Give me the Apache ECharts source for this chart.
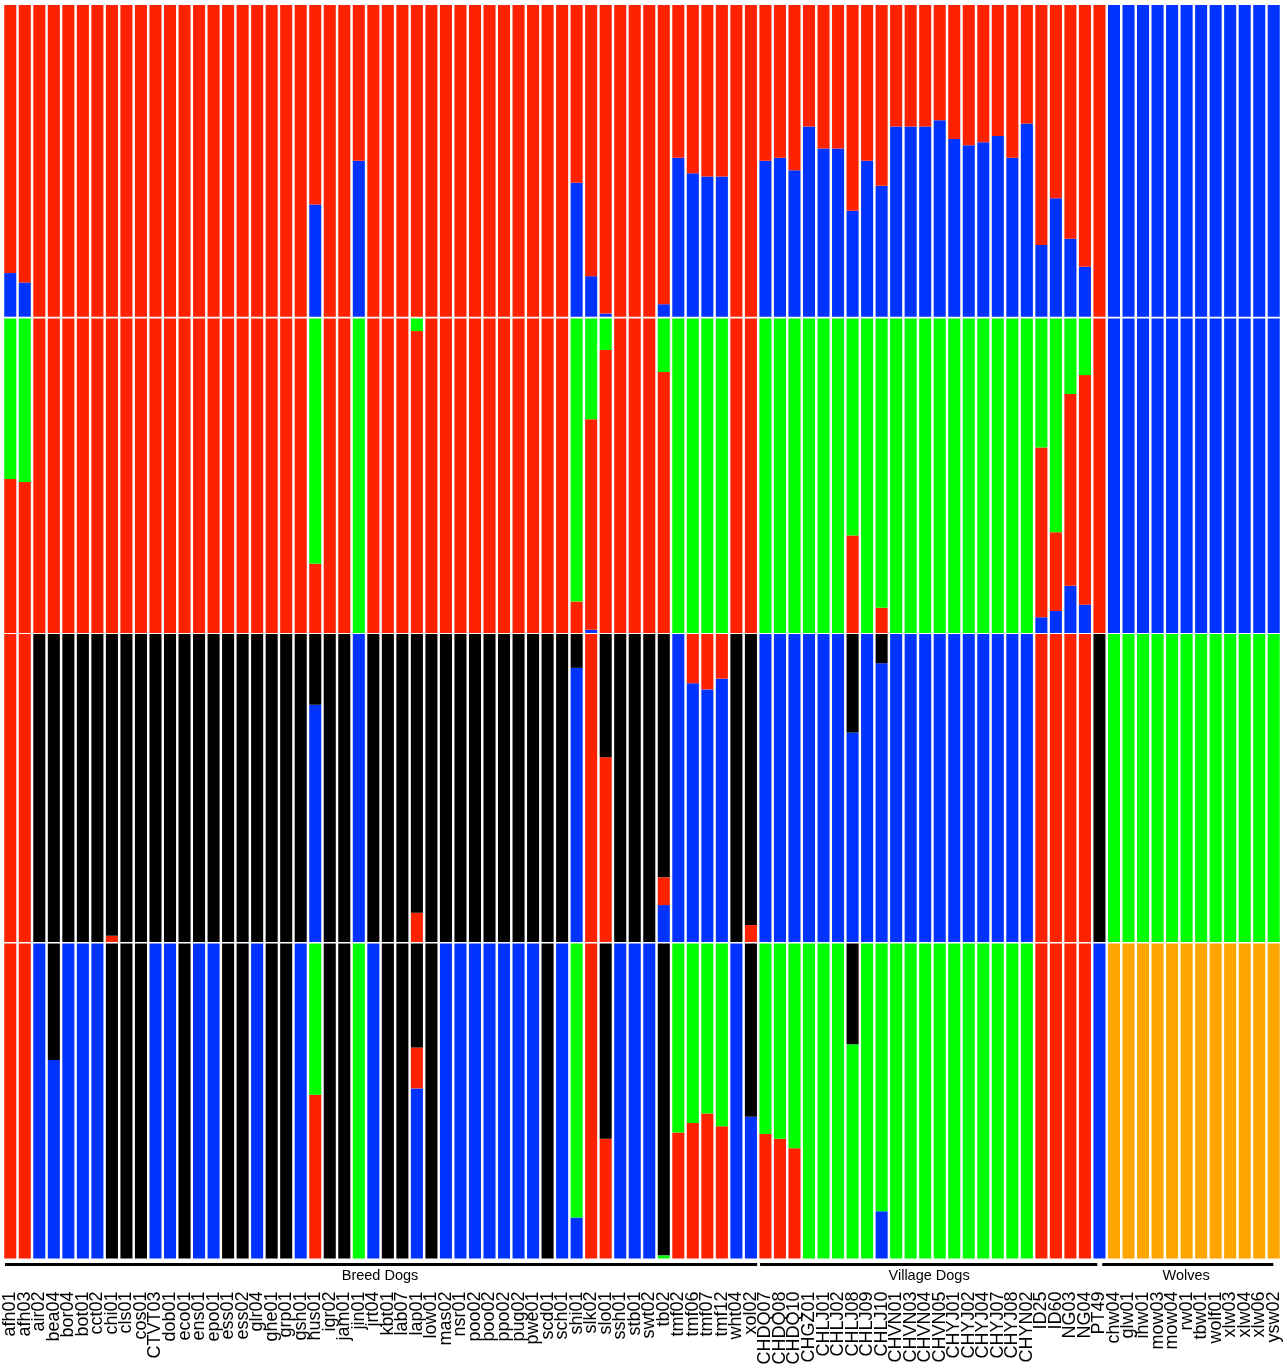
<!DOCTYPE html>
<html><head><meta charset="utf-8">
<script src="https://cdn.jsdelivr.net/npm/echarts@6/dist/echarts.min.js"></script>
<style>html,body{margin:0;padding:0;background:#fff}#c{width:1287px;height:1371px}</style>
</head><body><div id="c"></div><script>
const samples = ['afh01','afh03','air02','bea04','bor04','bot01','cct02','chi01','cls01','cos01','CTVT03','dob01','eco01','ens01','epo01','ess01','ess02','glr04','ghe01','grp01','gsh01','hus01','igr02','jam01','jin01','jrt04','kbt01','lab07','lap01','low01','mas02','nsr01','poo02','poo02','ppo02','pug02','pwe01','scd01','sch01','shi01','slk02','slo01','ssh01','stb01','swt02','tb02','tmf02','tmf06','tmf07','tmf12','wht04','xol02','CHDQ07','CHDQ08','CHDQ10','CHGZ01','CHLJ01','CHLJ02','CHLJ08','CHLJ09','CHLJ10','CHVN01','CHVN03','CHVN04','CHVN05','CHYJ01','CHYJ02','CHYJ04','CHYJ07','CHYJ08','CHYN02','ID25','ID60','NG03','NG04','PT49','chw04','glw01','ihw01','mow03','mow04','rw01','tbw01','wolf01','xlw03','xlw04','xlw06','ysw02'];

const groups = ['Breed Dogs','Village Dogs','Wolves'];
// group spans in category index units (line start, line end, label centre)
const groupSpans = [[-0.36, 51.43, 25.46],[51.63, 74.85, 63.27],[75.19, 86.97, 80.97]];

// K=2
const k2Blue = [0.14,0.11,0,0,0,0,0,0,0,0, 0,0,0,0,0,0,0,0,0,0, 0,0.36,0,0,0.50,0,0,0,0,0, 0,0,0,0,0,0,0,0,0,0.43, 0.13,0.01,0,0,0,0.04,0.51,0.46,0.45,0.45, 0,0,0.50,0.51,0.47,0.61,0.54,0.54,0.34,0.50, 0.42,0.61,0.61,0.61,0.63,0.57,0.55,0.56,0.58,0.51, 0.62,0.23,0.38,0.25,0.16,0,1,1,1,1, 1,1,1,1,1,1,1,1];
const k2Red = [0.86,0.89,1,1,1,1,1,1,1,1, 1,1,1,1,1,1,1,1,1,1, 1,0.64,1,1,0.50,1,1,1,1,1, 1,1,1,1,1,1,1,1,1,0.57, 0.87,0.99,1,1,1,0.96,0.49,0.54,0.55,0.55, 1,1,0.50,0.49,0.53,0.39,0.46,0.46,0.66,0.50, 0.58,0.39,0.39,0.39,0.37,0.43,0.45,0.44,0.42,0.49, 0.38,0.77,0.62,0.75,0.84,1,0,0,0,0, 0,0,0,0,0,0,0,0];

// K=3
const k3Blue = [0,0,0,0,0,0,0,0,0,0, 0,0,0,0,0,0,0,0,0,0, 0,0,0,0,0,0,0,0,0,0, 0,0,0,0,0,0,0,0,0,0, 0.01,0,0,0,0,0,0,0,0,0, 0,0,0,0,0,0,0,0,0,0, 0,0,0,0,0,0,0,0,0,0, 0,0.05,0.07,0.15,0.09,0,1,1,1,1, 1,1,1,1,1,1,1,1];
const k3Red = [0.49,0.48,1,1,1,1,1,1,1,1, 1,1,1,1,1,1,1,1,1,1, 1,0.22,1,1,0,1,1,1,0.96,1, 1,1,1,1,1,1,1,1,1,0.10, 0.67,0.90,1,1,1,0.83,0,0,0,0, 1,1,0,0,0,0,0,0,0.31,0, 0.08,0,0,0,0,0,0,0,0,0, 0,0.54,0.25,0.61,0.73,1,0,0,0,0, 0,0,0,0,0,0,0,0];
const k3Green = [0.51,0.52,0,0,0,0,0,0,0,0, 0,0,0,0,0,0,0,0,0,0, 0,0.78,0,0,1,0,0,0,0.04,0, 0,0,0,0,0,0,0,0,0,0.90, 0.32,0.10,0,0,0,0.17,1,1,1,1, 0,0,1,1,1,1,1,1,0.69,1, 0.92,1,1,1,1,1,1,1,1,1, 1,0.41,0.68,0.24,0.18,0,0,0,0,0, 0,0,0,0,0,0,0,0];

// K=4
const k4Blue = [0,0,0,0,0,0,0,0,0,0, 0,0,0,0,0,0,0,0,0,0, 0,0.77,0,0,1,0,0,0,0,0, 0,0,0,0,0,0,0,0,0,0.89, 0,0,0,0,0,0.12,1,0.84,0.82,0.855, 0,0,1,1,1,1,1,1,0.68,1, 0.905,1,1,1,1,1,1,1,1,1, 1,0,0,0,0,0,0,0,0,0, 0,0,0,0,0,0,0,0];
const k4Red = [1,1,0,0,0,0,0,0.02,0,0, 0,0,0,0,0,0,0,0,0,0, 0,0,0,0,0,0,0,0,0.095,0, 0,0,0,0,0,0,0,0,0,0, 1,0.60,0,0,0,0.09,0,0.16,0.18,0.145, 0,0.055,0,0,0,0,0,0,0,0, 0,0,0,0,0,0,0,0,0,0, 0,1,1,1,1,0,0,0,0,0, 0,0,0,0,0,0,0,0];
const k4Green = [0,0,0,0,0,0,0,0,0,0, 0,0,0,0,0,0,0,0,0,0, 0,0,0,0,0,0,0,0,0,0, 0,0,0,0,0,0,0,0,0,0, 0,0,0,0,0,0,0,0,0,0, 0,0,0,0,0,0,0,0,0,0, 0,0,0,0,0,0,0,0,0,0, 0,0,0,0,0,0,1,1,1,1, 1,1,1,1,1,1,1,1];
const k4Black = [0,0,1,1,1,1,1,0.98,1,1, 1,1,1,1,1,1,1,1,1,1, 1,0.23,1,1,0,1,1,1,0.905,1, 1,1,1,1,1,1,1,1,1,0.11, 0,0.40,1,1,1,0.79,0,0,0,0, 1,0.945,0,0,0,0,0,0,0.32,0, 0.095,0,0,0,0,0,0,0,0,0, 0,0,0,0,0,1,0,0,0,0, 0,0,0,0,0,0,0,0];

// K=5
const k5Blue = [0,0,1,0.63,1,1,1,0,0,0, 1,1,0,1,1,0,0,1,0,0, 1,0,0,0,0,1,0,0,0.54,0, 1,1,1,1,1,1,1,0,1,0.13, 0,0,1,1,1,0,0,0,0,0, 1,0.45,0,0,0,0,0,0,0,0, 0.15,0,0,0,0,0,0,0,0,0, 0,0,0,0,0,1,0,0,0,0, 0,0,0,0,0,0,0,0];
const k5Red = [1,1,0,0,0,0,0,0,0,0, 0,0,0,0,0,0,0,0,0,0, 0,0.52,0,0,0,0,0,0,0.13,0, 0,0,0,0,0,0,0,0,0,0, 1,0.38,0,0,0,0,0.40,0.43,0.46,0.42, 0,0,0.395,0.38,0.35,0,0,0,0,0, 0,0,0,0,0,0,0,0,0,0, 0,1,1,1,1,0,0,0,0,0, 0,0,0,0,0,0,0,0];
const k5Green = [0,0,0,0,0,0,0,0,0,0, 0,0,0,0,0,0,0,0,0,0, 0,0.48,0,0,1,0,0,0,0,0, 0,0,0,0,0,0,0,0,0,0.87, 0,0,0,0,0,0.01,0.60,0.57,0.54,0.58, 0,0,0.605,0.62,0.65,1,1,1,0.68,1, 0.85,1,1,1,1,1,1,1,1,1, 1,0,0,0,0,0,0,0,0,0, 0,0,0,0,0,0,0,0];
const k5Black = [0,0,0,0.37,0,0,0,1,1,1, 0,0,1,0,0,1,1,0,1,1, 0,0,1,1,0,0,1,1,0.33,1, 0,0,0,0,0,0,0,1,0,0, 0,0.62,0,0,0,0.99,0,0,0,0, 0,0.55,0,0,0,0,0,0,0.32,0, 0,0,0,0,0,0,0,0,0,0, 0,0,0,0,0,0,0,0,0,0, 0,0,0,0,0,0,0,0];
const k5Orange = [0,0,0,0,0,0,0,0,0,0, 0,0,0,0,0,0,0,0,0,0, 0,0,0,0,0,0,0,0,0,0, 0,0,0,0,0,0,0,0,0,0, 0,0,0,0,0,0,0,0,0,0, 0,0,0,0,0,0,0,0,0,0, 0,0,0,0,0,0,0,0,0,0, 0,0,0,0,0,0,1,1,1,1, 1,1,1,1,1,1,1,1];

const COL = {blue:'#0033ff', red:'#ff2200', green:'#00ff00', black:'#000000', orange:'#ffa500'};
const panels = [
  [['blue',k2Blue],['red',k2Red]],
  [['blue',k3Blue],['red',k3Red],['green',k3Green]],
  [['blue',k4Blue],['red',k4Red],['green',k4Green],['black',k4Black]],
  [['blue',k5Blue],['red',k5Red],['green',k5Green],['black',k5Black],['orange',k5Orange]]
];
const boxes = [[5,311.7],[318.5,314.5],[634,308],[943.5,315]];
const GL = 3, GW = 1278;

const chart = echarts.init(document.getElementById('c'), null, {renderer:'canvas'});
const grid = [], xAxis = [], yAxis = [], series = [];
panels.forEach((comps, p) => {
  grid.push({left:GL, width:GW, top:boxes[p][0], height:boxes[p][1], containLabel:false});
  const last = p === panels.length - 1;
  xAxis.push({type:'category', gridIndex:p, data:samples, boundaryGap:true,
    axisLine:{show:false}, axisTick:{show:false}, splitLine:{show:false},
    axisLabel: last ? {show:true, interval:0, rotate:90, fontSize:18, margin:33,
      fontFamily:'"Liberation Sans", Arial, Helvetica, sans-serif', color:'#000'} : {show:false}});
  yAxis.push({type:'value', gridIndex:p, min:0, max:1, show:false, splitLine:{show:false}});
  comps.forEach(([c, arr]) => {
    series.push({type:'bar', name:'K'+(p+2)+'-'+c, xAxisIndex:p, yAxisIndex:p, stack:'s'+p,
      data:arr, barCategoryGap:'17%', itemStyle:{color:COL[c]}, silent:true});
  });
});
chart.setOption({animation:false, backgroundColor:'#fff', grid, xAxis, yAxis, series});

const p0 = chart.convertToPixel({xAxisIndex:3}, 0);
const p1 = chart.convertToPixel({xAxisIndex:3}, 1);
const band = p1 - p0;
const px = v => p0 + v * band;
const graphic = [];
groupSpans.forEach((s, i) => {
  graphic.push({type:'line', shape:{x1:px(s[0]), y1:1264.5, x2:px(s[1]), y2:1264.5}, style:{stroke:'#000', lineWidth:3}, silent:true});
  graphic.push({type:'text', x:px(s[2]), y:1275.5, style:{text:groups[i], fill:'#000', align:'center', verticalAlign:'middle',
    font:'14.5px "Liberation Sans", Arial, sans-serif'}, silent:true});
});
chart.setOption({graphic});
</script></body></html>
